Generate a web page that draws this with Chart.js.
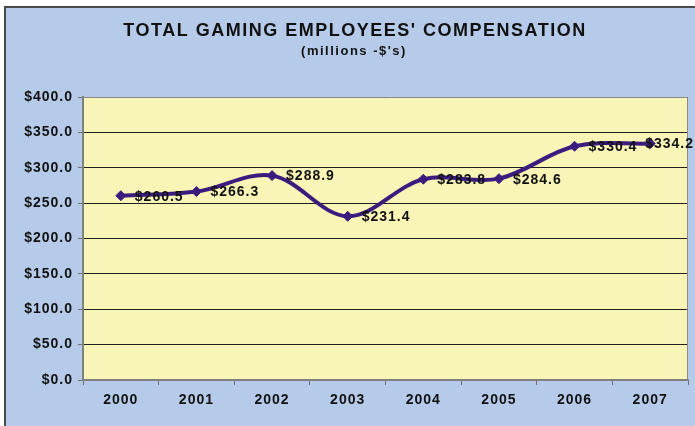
<!DOCTYPE html>
<html>
<head>
<meta charset="utf-8">
<script src="https://cdn.jsdelivr.net/npm/chart.js@4/dist/chart.umd.min.js"></script>
<style>
  html, body { margin: 0; padding: 0; background: #fff; overflow: hidden; }
  #frame {
    position: absolute; left: 4px; top: 6px; width: 720px; height: 440px;
    background: #b5cbe9; border: 2px solid #4a4a4a;
  }
  #wrap { position: absolute; left: 0; top: 0; width: 695px; height: 426px; }
</style>
</head>
<body>
<div id="frame"></div>
<div id="wrap"><canvas id="chart" width="695" height="426"></canvas></div>
<script>
  "use strict";

  // ---------- data ----------
  const YEARS = ["2000", "2001", "2002", "2003", "2004", "2005", "2006", "2007"];
  const COMPENSATION = [260.5, 266.3, 288.9, 231.4, 283.8, 284.6, 330.4, 334.2];
  const Y_TICKS = [0, 50, 100, 150, 200, 250, 300, 350, 400];
  const TITLE = "TOTAL GAMING EMPLOYEES' COMPENSATION";
  const SUBTITLE = "(millions -$'s)";

  const LINE = "#3b1c7e";
  const PLOT_BG = "#f9f5b6";
  const FONT = "'Liberation Sans', Arial, sans-serif";

  const fmtMoney = (v) => "$" + v.toFixed(1);

  // the Excel text is set a bit wide
  const spacing = {
    id: "spacing",
    beforeUpdate(chart) { chart.ctx.letterSpacing = "1px"; },
    beforeDraw(chart) { chart.ctx.letterSpacing = "1px"; },
  };

  // titles drawn by hand so they can get their own spacing
  const titles = {
    id: "titles",
    afterDraw(chart) {
      const { ctx } = chart;
      ctx.save();
      ctx.letterSpacing = "1.5px";
      ctx.fillStyle = "#111";
      ctx.textAlign = "center";
      ctx.textBaseline = "middle";
      ctx.font = "bold 18px " + FONT;
      ctx.fillText(TITLE, 355, 31);
      ctx.font = "bold 13px " + FONT;
      ctx.fillText(SUBTITLE, 354, 51);
      ctx.restore();
    },
  };

  // yellow plot background + grey frame
  const plotBg = {
    id: "plotBg",
    beforeDraw(chart) {
      const { ctx, chartArea: a } = chart;
      ctx.save();
      ctx.fillStyle = PLOT_BG;
      ctx.fillRect(a.left, a.top, a.right - a.left, a.bottom - a.top);
      ctx.restore();
    },
    beforeDatasetsDraw(chart) {
      const { ctx, chartArea: a } = chart;
      ctx.save();
      ctx.strokeStyle = "#8a8a8a";
      ctx.lineWidth = 1;
      ctx.beginPath();
      ctx.moveTo(a.left, a.top + 0.5);
      ctx.lineTo(a.right - 0.5, a.top + 0.5);
      ctx.lineTo(a.right - 0.5, a.bottom);
      ctx.stroke();
      ctx.restore();
    },
  };

  // value labels to the right of each point
  const valueLabels = {
    id: "valueLabels",
    afterDatasetsDraw(chart) {
      const { ctx } = chart;
      const meta = chart.getDatasetMeta(0);
      ctx.save();
      ctx.font = "bold 14px " + FONT;
      ctx.fillStyle = "#111";
      ctx.textBaseline = "middle";
      ctx.textAlign = "left";
      meta.data.forEach((pt, i) => {
        const txt = fmtMoney(COMPENSATION[i]);
        const w = ctx.measureText(txt).width;
        let x = pt.x + 14;
        if (x + w > chart.width - 1) x = chart.width - 1 - w;
        ctx.fillText(txt, x, pt.y + 1);
      });
      ctx.restore();
    },
  };

  new Chart(document.getElementById("chart"), {
    type: "line",
    data: {
      labels: YEARS,
      datasets: [
        {
          data: COMPENSATION,
          borderColor: LINE,
          backgroundColor: LINE,
          borderWidth: 4,
          tension: 0.35,
          pointStyle: "rectRot",
          pointRadius: 5,
          pointHoverRadius: 5,
          pointBackgroundColor: LINE,
          pointBorderColor: LINE,
          pointBorderWidth: 1,
        },
      ],
    },
    options: {
      responsive: false,
      animation: false,
      events: [],
      layout: { padding: { left: 19, right: 7, top: 97, bottom: 0 } },
      plugins: {
        legend: { display: false },
        tooltip: { enabled: false },
        title: { display: false },
      },
      scales: {
        x: {
          offset: true,
          grid: {
            offset: true,
            drawOnChartArea: false,
            drawTicks: true,
            tickLength: 5,
            color: "#707070",
          },
          border: { color: "#808080", width: 2 },
          ticks: {
            color: "#111",
            padding: 7,
            font: { family: FONT, size: 14, weight: "bold" },
          },
          afterFit: (s) => { s.height = 46; },
        },
        y: {
          min: 0,
          max: 400,
          afterBuildTicks: (s) => { s.ticks = Y_TICKS.map((v) => ({ value: v })); },
          grid: {
            color: (c) => (c.tick && c.tick.value === 0 ? "rgba(0,0,0,0)" : "#1e1e1e"),
            lineWidth: 1,
            drawTicks: true,
            tickLength: 5,
            tickColor: "#707070",
          },
          border: { color: "#808080", width: 2 },
          ticks: {
            color: "#111",
            padding: 5,
            font: { family: FONT, size: 14, weight: "bold" },
            callback: (v) => fmtMoney(v),
          },
          afterFit: (s) => { s.width = 64; },
        },
      },
    },
    plugins: [spacing, plotBg, valueLabels, titles],
  });
</script>
</body>
</html>
